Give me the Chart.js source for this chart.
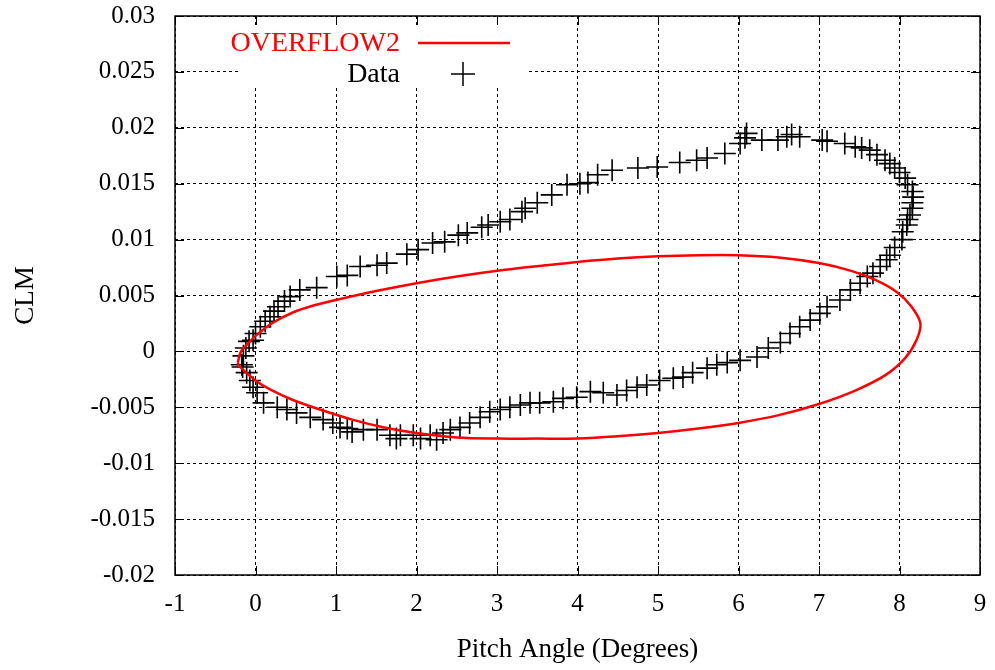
<!DOCTYPE html>
<html>
<head>
<meta charset="utf-8">
<script src="https://cdn.jsdelivr.net/npm/chart.js@4.4.1/dist/chart.umd.min.js"></script>
<style>
  html, body { margin: 0; padding: 0; background: #fff; }
</style>
</head>
<body>
<canvas id="chart" width="995" height="670"></canvas>
<script>
// measured loop (pitch angle in degrees, CLM)
const dataPitch = [
  -0.17, -0.15, -0.12, -0.08, -0.03, 0.0, 0.06, 0.12, 0.18, 0.23, 0.28, 0.36, 0.43, 0.55, 0.76,
  1.01, 1.14, 1.30, 1.51, 1.63, 1.88, 2.02, 2.2, 2.35, 2.52, 2.63, 2.81, 2.89, 3.04, 3.16,
  3.31, 3.35, 3.50, 3.68, 3.87, 4.03, 4.13, 4.25, 4.43, 4.75, 4.99, 5.27, 5.48, 5.61, 5.83,
  6.02, 6.08, 6.1, 6.29, 6.49, 6.6, 6.66, 6.76, 7.04, 7.1, 7.32, 7.45, 7.53, 7.63, 7.72,
  7.82, 7.88, 7.94, 8.0, 8.07, 8.1, 8.16, 8.17, 8.16, 8.16, 8.13, 8.1, 8.09, 8.04, 8.03,
  7.94, 7.88, 7.84, 7.76, 7.67, 7.6, 7.51, 7.39, 7.26, 7.1, 7.01, 6.89, 6.76, 6.64, 6.52,
  6.37, 6.23, 6.02, 5.86, 5.73, 5.61, 5.43, 5.31, 5.19, 5.02, 4.86, 4.74, 4.61, 4.49, 4.32,
  4.16, 3.99, 3.82, 3.7, 3.53, 3.41, 3.29, 3.16, 3.04, 2.91, 2.79, 2.66, 2.54, 2.42, 2.33,
  2.25, 2.17, 2.05, 1.96, 1.8, 1.75, 1.67, 1.51, 1.34, 1.2, 1.14, 1.05, 0.96, 0.84, 0.68,
  0.51, 0.39, 0.27, 0.1, 0.02, -0.03, -0.07, -0.11, -0.16
];
const dataClm = [
  -0.0012, -0.0004, 0.0003, 0.0009, 0.001, 0.0016, 0.0022, 0.0027, 0.0031, 0.0036, 0.004, 0.0045, 0.0049, 0.0055, 0.0057,
  0.0067, 0.0068, 0.0076, 0.0077, 0.0079, 0.0087, 0.0091, 0.0097, 0.0098, 0.0104, 0.0106, 0.0111, 0.0113, 0.0116, 0.0118,
  0.0125, 0.0128, 0.0133, 0.014, 0.0149, 0.015, 0.0151, 0.0158, 0.0162, 0.0164, 0.0165, 0.0169, 0.0171, 0.0173, 0.0177,
  0.0186, 0.0191, 0.0195, 0.0189, 0.0189, 0.0192, 0.0194, 0.0192, 0.0189, 0.0188, 0.0186, 0.0183, 0.0182, 0.018, 0.0176,
  0.0171, 0.0168, 0.0164, 0.016, 0.0155, 0.0149, 0.0143, 0.0138, 0.0133, 0.0128, 0.0122, 0.0118, 0.0113, 0.0107, 0.01,
  0.0093, 0.0086, 0.0082, 0.0076, 0.007, 0.0067, 0.0061, 0.0055, 0.0046, 0.004, 0.0034, 0.0028, 0.0022, 0.0016, 0.0008,
  0.0003, -0.0005, -0.0008, -0.001, -0.0012, -0.0015, -0.0019, -0.0023, -0.0024, -0.0026, -0.003, -0.0032, -0.0035, -0.0039, -0.0037,
  -0.0036, -0.0041, -0.0042, -0.0045, -0.0046, -0.0046, -0.0048, -0.005, -0.0052, -0.0054, -0.0059, -0.0064, -0.0068, -0.007, -0.0073,
  -0.0079, -0.0075, -0.0078, -0.0075, -0.0075, -0.0078, -0.0075, -0.007, -0.007, -0.0072, -0.0069, -0.0068, -0.0064, -0.0061, -0.0059,
  -0.0055, -0.0052, -0.005, -0.0046, -0.0037, -0.0032, -0.0026, -0.0019, -0.0014
];

// OVERFLOW2 computed loop
const cfdPitch = [
  -0.22, -0.18, -0.08, 0.02, 0.2, 0.47, 0.72, 1.0, 1.5, 2.0, 2.5, 3.1, 3.6, 4.0, 4.5, 5.0, 5.5,
  6.0, 6.5, 7.0, 7.4, 7.7, 7.97, 8.15, 8.26, 8.21, 8.07, 7.83, 7.45, 7.0, 6.5, 6.0,
  5.5, 5.0, 4.5, 4.0, 3.5, 3.0, 2.5, 2.0, 1.6, 1.2, 0.8, 0.45, 0.18, 0.0, -0.13, -0.2, -0.22
];
const cfdClm = [
  -0.001, 0.0, 0.0008, 0.0015, 0.0025, 0.0035, 0.0041, 0.0046, 0.0054, 0.0061, 0.0067, 0.0073, 0.0077, 0.008, 0.0083, 0.0085, 0.0086,
  0.0086, 0.0084, 0.0079, 0.0072, 0.0064, 0.0053, 0.004, 0.0025, 0.001, -0.0006, -0.0021, -0.0035, -0.0047, -0.0057, -0.0064,
  -0.0069, -0.0073, -0.0076, -0.0078, -0.0078, -0.0078, -0.0077, -0.0073, -0.0068, -0.0061, -0.0052, -0.0043, -0.0034, -0.0026, -0.0018, -0.0013, -0.001
];

const xMin = -1, xMax = 9, xStep = 1;
const yMin = -0.02, yMax = 0.03, yStep = 0.005;

const serif = "'Liberation Serif', 'Times New Roman', serif";

const toPoints = (xs, ys) => xs.map((x, i) => ({ x: x, y: ys[i] }));

// gnuplot style frame: solid border + inward tick marks
const framePlugin = {
  id: "frame",
  afterDraw(chart) {
    const { ctx, chartArea: a, scales } = chart;
    ctx.save();
    ctx.strokeStyle = "#000";
    ctx.lineWidth = 1;
    const len = 9;
    ctx.beginPath();
    scales.x.ticks.forEach((t) => {
      const px = Math.round(scales.x.getPixelForValue(t.value)) + 0.5;
      ctx.moveTo(px, a.bottom); ctx.lineTo(px, a.bottom - len);
      ctx.moveTo(px, a.top); ctx.lineTo(px, a.top + len);
    });
    scales.y.ticks.forEach((t) => {
      const py = Math.round(scales.y.getPixelForValue(t.value)) + 0.5;
      ctx.moveTo(a.left, py); ctx.lineTo(a.left + len, py);
      ctx.moveTo(a.right, py); ctx.lineTo(a.right - len, py);
    });
    ctx.stroke();
    ctx.lineWidth = 1.5;
    ctx.strokeRect(a.left, a.top, a.right - a.left, a.bottom - a.top);
    ctx.restore();
  }
};

// key drawn inside the plot, top left, over the grid
const keyPlugin = {
  id: "key",
  beforeDatasetsDraw(chart) {
    const { ctx } = chart;
    ctx.save();
    ctx.fillStyle = "#fff";
    ctx.fillRect(241, 27, 286, 61);
    ctx.font = "28px " + serif;
    ctx.textAlign = "right";
    ctx.textBaseline = "middle";
    ctx.fillStyle = "#ff0000";
    ctx.fillText("OVERFLOW2", 400, 44);
    ctx.strokeStyle = "#ff0000";
    ctx.lineWidth = 2.5;
    ctx.beginPath();
    ctx.moveTo(418, 43); ctx.lineTo(510, 43);
    ctx.stroke();
    ctx.fillStyle = "#000";
    ctx.fillText("Data", 400, 75);
    ctx.strokeStyle = "#000";
    ctx.lineWidth = 1.5;
    ctx.beginPath();
    ctx.moveTo(451, 74); ctx.lineTo(475, 74);
    ctx.moveTo(463, 62); ctx.lineTo(463, 86);
    ctx.stroke();
    ctx.restore();
  }
};

new Chart(document.getElementById("chart"), {
  type: "scatter",
  data: {
    datasets: [
      {
        label: "OVERFLOW2",
        data: toPoints(cfdPitch, cfdClm),
        showLine: true,
        borderColor: "#ff0000",
        borderWidth: 2.5,
        pointRadius: 0,
        tension: 0.3,
      },
      {
        label: "Data",
        data: toPoints(dataPitch, dataClm),
        showLine: false,
        pointStyle: "cross",
        pointRadius: 11,
        borderColor: "#000",
        backgroundColor: "#000",
        borderWidth: 1.6,
      },
    ],
  },
  options: {
    responsive: false,
    animation: false,
    events: [],
    layout: { autoPadding: false, padding: { top: 0, right: 15, left: 0, bottom: 0 } },
    plugins: {
      legend: { display: false },
      tooltip: { enabled: false },
    },
    scales: {
      x: {
        type: "linear",
        min: xMin,
        max: xMax,
        ticks: { stepSize: xStep, color: "#000", font: { family: serif, size: 25 }, padding: 14, maxRotation: 0 },
        grid: { color: "#000", lineWidth: 1, drawTicks: false },
        border: { display: false, dash: [3, 3] },
        title: { display: true, text: "Pitch Angle (Degrees)", color: "#000", font: { family: serif, size: 27 }, padding: { top: 0, bottom: 4 } },
        afterFit: (scale) => { scale.height = 95; scale.paddingLeft = 8; scale.paddingRight = 8; },
      },
      y: {
        type: "linear",
        min: yMin,
        max: yMax,
        ticks: {
          stepSize: yStep, color: "#000", font: { family: serif, size: 25 }, padding: 20,
          callback: (v) => String(Number(v.toFixed(3))),
        },
        grid: { color: "#000", lineWidth: 1, drawTicks: false },
        border: { display: false, dash: [3, 3] },
        title: { display: true, text: "CLM", color: "#000", font: { family: serif, size: 27 }, padding: { top: 10, bottom: 0 } },
        afterFit: (scale) => { scale.width = 175; scale.paddingTop = 16; scale.paddingBottom = 16; },
      },
    },
  },
  plugins: [keyPlugin, framePlugin],
});
</script>
</body>
</html>
